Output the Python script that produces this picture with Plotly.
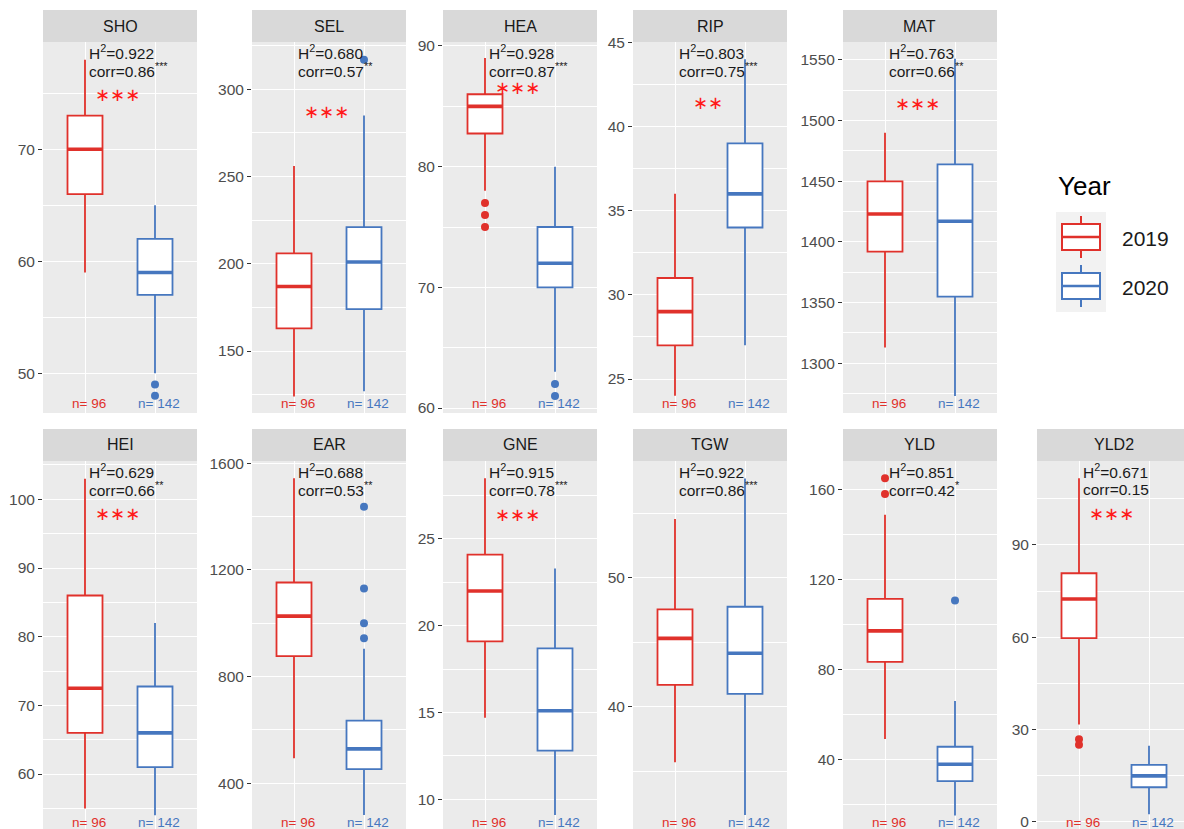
import plotly.graph_objects as go

# ---------------- data ----------------
traits = ["SHO", "SEL", "HEA", "RIP", "MAT", "HEI", "EAR", "GNE", "TGW", "YLD", "YLD2"]

# 2019 box statistics
lo_2019 = [59, 124, 78, 24, 1313, 55, 494, 14.7, 35.7, 49, 31.6]
q1_2019 = [66, 163, 82.75, 27, 1392, 66, 877, 19.1, 41.7, 83.4, 59.7]
md_2019 = [70, 187, 85, 29, 1423, 72.5, 1027, 22.0, 45.3, 97.2, 72.4]
q3_2019 = [73, 206, 86, 31, 1450, 86, 1153, 24.1, 47.55, 111.5, 80.8]
hi_2019 = [78, 256, 89, 36, 1490, 103, 1544, 28.5, 54.55, 148.9, 111.7]
out_2019 = [[], [], [77, 76, 75], [], [], [], [], [], [], [165.2, 158.2], [26.8, 25.0]]

# 2020 box statistics
lo_2020 = [50, 127, 63, 27, 1273, 54, 281, 9.1, 31.6, 15, 2.4]
q1_2020 = [57, 174, 70, 34, 1355, 61, 453, 12.8, 41.0, 30.3, 11.2]
md_2020 = [59, 201, 72, 36, 1417, 66, 529, 15.1, 44.15, 37.8, 14.9]
q3_2020 = [62, 221, 75, 39, 1464, 72.75, 635, 18.7, 47.75, 45.6, 18.5]
hi_2020 = [65, 285, 80, 44, 1551, 82, 905, 23.3, 57.7, 66, 24.7]
out_2020 = [[49, 48], [317], [62, 61], [], [], [], [1437, 1131, 1000, 944], [], [], [110.7], []]

n_2019 = 96
n_2020 = 142

h2_values = ["0.922", "0.680", "0.928", "0.803", "0.763", "0.629", "0.688", "0.915", "0.922", "0.851", "0.671"]
corr_values = ["0.86", "0.57", "0.87", "0.75", "0.66", "0.66", "0.53", "0.78", "0.86", "0.42", "0.15"]
corr_sig = ["***", "**", "***", "***", "**", "**", "**", "***", "***", "*", ""]
year_sig = ["***", "***", "***", "**", "***", "***", "", "***", "", "", "***"]
year_sig_y = [74.9, 287, 86.6, 41.45, 1513.8, 97.9, None, 26.4, None, None, 100.3]

years = ["2019", "2020"]

# ---------------- styling / layout ----------------
RED = "#E0312B"
BLUE = "#4677BF"
W, H = 1184, 829
FONT = "Liberation Sans, Arial"

col_left = [43, 252, 443, 633, 843, 1037]
panel_w = 154
px_per_unit = 70.0
row_top = [42, 461]
row_bot = [413, 829]
strip_top = [10, 429]

y_ranges = [[46.46, 79.58], [114.5, 327.1], [59.59, 90.33], [22.98, 45.02], [1259, 1564.8],
            [52.0, 105.58], [228.6, 1608.7], [8.29, 29.49], [30.52, 59.05], [8.95, 172.9], [-2.37, 117.3]]
y_dtick = [10, 50, 10, 5, 50, 10, 400, 5, 10, 40, 30]

positions = [(0, 0), (0, 1), (0, 2), (0, 3), (0, 4),
             (1, 0), (1, 1), (1, 2), (1, 3), (1, 4), (1, 5)]


def py(px):
    return 1 - px / H


fig = go.Figure()
shapes = []
annotations = []
layout_axes = {}

for i, t in enumerate(traits):
    r, c = positions[i]
    k = "" if i == 0 else str(i + 1)
    xa, ya = "x" + k, "y" + k
    left = col_left[c]
    right = min(left + panel_w, W)
    xr = [0.4, 0.4 + (right - left) / px_per_unit]
    layout_axes["xaxis" + k] = dict(
        domain=[left / W, right / W], range=xr, anchor=ya, automargin=False,
        tickvals=[1, 2], showticklabels=False, ticks="",
        showgrid=True, gridcolor="white", gridwidth=1.4, zeroline=False, fixedrange=True)
    layout_axes["yaxis" + k] = dict(
        domain=[py(row_bot[r]), py(row_top[r])], range=y_ranges[i], anchor=xa, automargin=False,
        dtick=y_dtick[i], tick0=0, ticks="outside", ticklen=4, tickwidth=1.1, tickcolor="#333333",
        tickfont=dict(family=FONT, size=15.5, color="#4D4D4D"), ticklabeloverflow="allow",
        showgrid=True, gridcolor="white", gridwidth=1.4, zeroline=False,
        minor=dict(dtick=y_dtick[i] / 2, tick0=0, showgrid=True, gridcolor="white", gridwidth=0.7),
        fixedrange=True)

    stats = [
        (lo_2019[i], q1_2019[i], md_2019[i], q3_2019[i], hi_2019[i], out_2019[i], RED, 1),
        (lo_2020[i], q1_2020[i], md_2020[i], q3_2020[i], hi_2020[i], out_2020[i], BLUE, 2),
    ]
    for lo, q1, md, q3, hi, outs, col, xpos in stats:
        fig.add_trace(go.Box(
            x=[xpos], q1=[q1], median=[md], q3=[q3], lowerfence=[lo], upperfence=[hi],
            width=0.5, whiskerwidth=0, fillcolor="white", line=dict(color=col, width=1.8),
            boxpoints=False, xaxis=xa, yaxis=ya, showlegend=False, hoverinfo="skip"))
        # thicker median line (ggplot fatten)
        fig.add_trace(go.Scatter(
            x=[xpos - 0.25, xpos + 0.25], y=[md, md], mode="lines",
            line=dict(color=col, width=3.6), xaxis=xa, yaxis=ya, showlegend=False, hoverinfo="skip"))
        if outs:
            fig.add_trace(go.Scatter(
                x=[xpos] * len(outs), y=outs, mode="markers",
                marker=dict(color=col, size=8), xaxis=xa, yaxis=ya, showlegend=False, hoverinfo="skip"))

    # strip
    shapes.append(dict(type="rect", xref="paper", yref="paper",
                       x0=left / W, x1=right / W, y0=py(row_top[r]), y1=py(strip_top[r]),
                       fillcolor="#D9D9D9", line=dict(width=0), layer="below"))
    annotations.append(dict(text=t, xref="paper", yref="paper",
                            x=(left + panel_w / 2) / W, y=py((strip_top[r] + row_top[r]) / 2),
                            showarrow=False, xanchor="center", yanchor="middle",
                            font=dict(family=FONT, size=16, color="#1A1A1A")))
    # H2 and corr text
    base = row_top[r]
    annotations.append(dict(text="H<sup>2</sup>=" + h2_values[i], xref=xa, yref="paper",
                            x=1.03, y=py(base + 10), xanchor="left", yanchor="middle", showarrow=False,
                            font=dict(family=FONT, size=15.5, color="#1A1A1A")))
    ctext = "corr=" + corr_values[i] + ("<sup>" + corr_sig[i] + "</sup>" if corr_sig[i] else "")
    annotations.append(dict(text=ctext, xref=xa, yref="paper",
                            x=1.03, y=py(base + 28), xanchor="left", yanchor="middle", showarrow=False,
                            font=dict(family=FONT, size=15.5, color="#1A1A1A")))
    # significance stars between years
    if year_sig[i]:
        annotations.append(dict(text="∗" * len(year_sig[i]), xref=xa, yref=ya,
                                x=1.47, y=year_sig_y[i], xanchor="center", yanchor="middle",
                                showarrow=False,
                                font=dict(family="DejaVu Sans", size=18, color="#FF1A1A")))
    # n labels
    ny = 404 if r == 0 else 822
    annotations.append(dict(text="n= %d" % n_2019, xref=xa, yref="paper", x=1.05, y=py(ny),
                            xanchor="center", yanchor="middle", showarrow=False,
                            font=dict(family=FONT, size=13.5, color=RED)))
    annotations.append(dict(text="n= %d" % n_2020, xref=xa, yref="paper", x=2.06, y=py(ny),
                            xanchor="center", yanchor="middle", showarrow=False,
                            font=dict(family=FONT, size=13.5, color=BLUE)))

# ---------------- legend (drawn manually, ggplot style) ----------------
annotations.append(dict(text="Year", xref="paper", yref="paper", x=1056 / W, y=py(186),
                        xanchor="left", yanchor="middle", showarrow=False,
                        font=dict(family=FONT, size=26, color="#000000")))
shapes.append(dict(type="rect", xref="paper", yref="paper", x0=1056 / W, x1=1106 / W,
                   y0=py(312), y1=py(212), fillcolor="#F2F2F2", line=dict(width=0)))
for j, (yr, col) in enumerate(zip(years, [RED, BLUE])):
    cy = 237 + 49 * j
    shapes.append(dict(type="line", xref="paper", yref="paper", x0=1081 / W, x1=1081 / W,
                       y0=py(cy - 21), y1=py(cy + 21), line=dict(color=col, width=2)))
    shapes.append(dict(type="rect", xref="paper", yref="paper", x0=1062 / W, x1=1100 / W,
                       y0=py(cy + 13), y1=py(cy - 13), fillcolor="white", line=dict(color=col, width=2)))
    shapes.append(dict(type="line", xref="paper", yref="paper", x0=1062 / W, x1=1100 / W,
                       y0=py(cy), y1=py(cy), line=dict(color=col, width=2.5)))
    annotations.append(dict(text=yr, xref="paper", yref="paper", x=1120 / W, y=py(cy + 1),
                            xanchor="left", yanchor="middle", showarrow=False,
                            font=dict(family=FONT, size=21, color="#1A1A1A")))

fig.update_layout(
    width=W, height=H, margin=dict(l=0, r=0, t=0, b=0, pad=0),
    paper_bgcolor="white", plot_bgcolor="#EBEBEB",
    showlegend=False, shapes=shapes, annotations=annotations,
    **layout_axes)

fig.write_html("out.html", config={"displayModeBar": False},
               post_script="document.body.style.margin='0';document.body.style.padding='0';"
                           "document.body.style.overflow='hidden';")
